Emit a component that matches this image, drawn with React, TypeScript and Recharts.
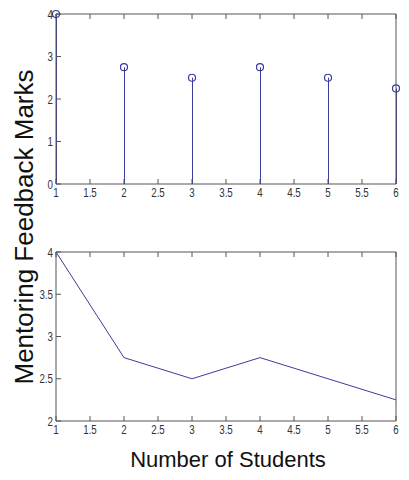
import {
  ComposedChart,
  Bar,
  Line,
  XAxis,
  YAxis,
} from 'recharts'

const students = [1, 2, 3, 4, 5, 6]
const stemMarks = [4, 2.75, 2.5, 2.75, 2.5, 2.25]
const lineMarks = [4, 2.75, 2.5, 2.75, 2.5, 2.25]

const xTicks = [1, 1.5, 2, 2.5, 3, 3.5, 4, 4.5, 5, 5.5, 6]
const stemYTicks = [0, 1, 2, 3, 4]
const lineYTicks = [2, 2.5, 3, 3.5, 4]

const blue = '#3c3c9c'
const axisColor = '#555555'

const stemData = students.map((s, i) => ({ x: s, y: stemMarks[i] }))
const lineData = students.map((s, i) => ({ x: s, y: lineMarks[i] }))

const noLabel = () => <g />

// matlab-ish narrow tick labels
function NarrowTick(props: any) {
  const { x, y, payload, textAnchor, side } = props
  return (
    <text
      transform={`translate(${x},${y}) scale(0.75,1)`}
      x={0}
      y={0}
      dy={side === 'bottom' ? '0.75em' : '0.36em'}
      textAnchor={textAnchor}
      fontSize={13}
      fill='#333'
      fontFamily="'Liberation Sans', Arial, sans-serif"
    >
      {payload.value}
    </text>
  )
}

function BoxAxes({ yTicks, yDomain }: { yTicks: number[]; yDomain: [number, number] }) {
  return [
    <XAxis
      key='b'
      xAxisId='b'
      dataKey='x'
      type='number'
      domain={[1, 6]}
      ticks={xTicks}
      height={20}
      tickSize={-5}
      tickMargin={8}
      stroke={axisColor}
      tick={<NarrowTick side='bottom' />}
      interval={0}
    />,
    <XAxis
      key='t'
      xAxisId='t'
      dataKey='x'
      type='number'
      orientation='top'
      domain={[1, 6]}
      ticks={xTicks}
      height={1}
      tickSize={-5}
      stroke={axisColor}
      tick={noLabel}
      interval={0}
    />,
    <YAxis
      key='l'
      yAxisId='l'
      type='number'
      domain={yDomain}
      ticks={yTicks}
      width={20}
      tickSize={-5}
      tickMargin={8}
      stroke={axisColor}
      tick={<NarrowTick side='left' />}
      interval={0}
    />,
    <YAxis
      key='r'
      yAxisId='r'
      type='number'
      orientation='right'
      domain={yDomain}
      ticks={yTicks}
      width={1}
      tickSize={-5}
      stroke={axisColor}
      tick={noLabel}
      interval={0}
    />,
  ]
}

export default function App() {
  return (
    <div
      style={{
        position: 'absolute',
        left: 0,
        top: 0,
        width: 409,
        height: 480,
        background: '#fff',
        fontFamily: "'Liberation Sans', Arial, sans-serif",
      }}
    >
      <div style={{ position: 'absolute', left: 0, top: 0 }}>
        <ComposedChart
          width={409}
          height={210}
          data={stemData}
          margin={{ top: 13, right: 12, bottom: 6, left: 36 }}
        >
          {BoxAxes({ yTicks: stemYTicks, yDomain: [0, 4] })}
          <Bar
            xAxisId='b'
            yAxisId='l'
            dataKey='y'
            barSize={1}
            fill={blue}
            isAnimationActive={false}
          />
          <Line
            xAxisId='b'
            yAxisId='l'
            dataKey='y'
            stroke='none'
            dot={{ r: 3.5, stroke: blue, strokeWidth: 1.2, fill: 'none' }}
            activeDot={false}
            isAnimationActive={false}
          />
        </ComposedChart>
      </div>
      <div style={{ position: 'absolute', left: 0, top: 230 }}>
        <ComposedChart
          width={409}
          height={220}
          data={lineData}
          margin={{ top: 21, right: 12, bottom: 9, left: 36 }}
        >
          {BoxAxes({ yTicks: lineYTicks, yDomain: [2, 4] })}
          <Line
            xAxisId='b'
            yAxisId='l'
            dataKey='y'
            stroke={blue}
            strokeWidth={1}
            dot={false}
            activeDot={false}
            isAnimationActive={false}
          />
        </ComposedChart>
      </div>
      <div
        style={{
          position: 'absolute',
          left: 24,
          top: 227,
          transform: 'translate(-50%, -50%) rotate(-90deg)',
          whiteSpace: 'nowrap',
          fontSize: 26,
          color: '#111',
        }}
      >
        Mentoring Feedback Marks
      </div>
      <div
        style={{
          position: 'absolute',
          left: 228,
          top: 460,
          transform: 'translate(-50%, -50%)',
          whiteSpace: 'nowrap',
          fontSize: 22,
          color: '#111',
        }}
      >
        Number of Students
      </div>
    </div>
  )
}
